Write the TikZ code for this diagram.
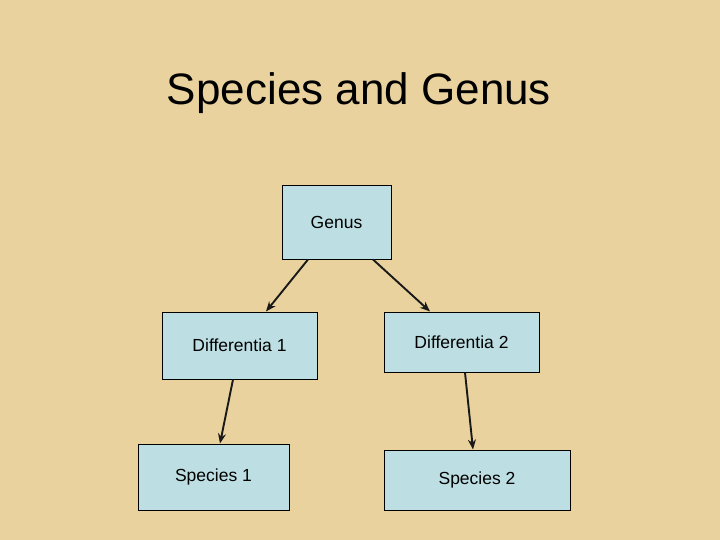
\documentclass[tikz,border=0pt]{standalone}
\usepackage{fontspec}
\setmainfont{Liberation Sans}
\usetikzlibrary{arrows.meta}
\definecolor{parchment}{HTML}{E9D29E}
\definecolor{boxblue}{HTML}{BDDFE3}
\begin{document}
\begin{tikzpicture}[x=1pt,y=-1pt]
\tikzset{kasten/.style={rectangle, draw=black, line width=1pt, fill=boxblue, inner sep=0, font=\fontsize{17.5}{20}\selectfont},
pfeil/.style={line width=1.9pt, draw=black!90, -{Stealth[length=10pt,width=8pt]}}}
\fill[parchment] (0,0) rectangle (720,540);
\node at (359,93) (titel) {\fontsize{44}{50}\selectfont Species and Genus};
\node[kasten, minimum width=109pt, minimum height=73pt] at (336.5,222.5) (g) {Genus};
\node[kasten, minimum width=155pt, minimum height=67pt] at (239.5,345.5) (d1) {Differentia 1};
\node[kasten, minimum width=155pt, minimum height=60pt] at (461.5,342) (d2) {Differentia 2};
\node[kasten, minimum width=151pt, minimum height=66pt] at (213.5,477) (s1) {Species 1};
\node[kasten, minimum width=186pt, minimum height=60pt] at (477,480) (s2) {Species 2};
			\draw [pfeil] ([xshift=-28.5pt]g.south) -- ([xshift=26.5pt]d1.north);
			\draw [pfeil] ([xshift=36.5pt]g.south) -- ([xshift=-31.5pt]d2.north);

			% to the species
			\draw [pfeil] ([xshift=-6.5pt]d1.south) -- ([xshift=6.5pt]s1.north);
			\draw [pfeil] ([xshift=3.5pt]d2.south) -- ([xshift=-4pt]s2.north);
		\end{tikzpicture}
\end{document}
